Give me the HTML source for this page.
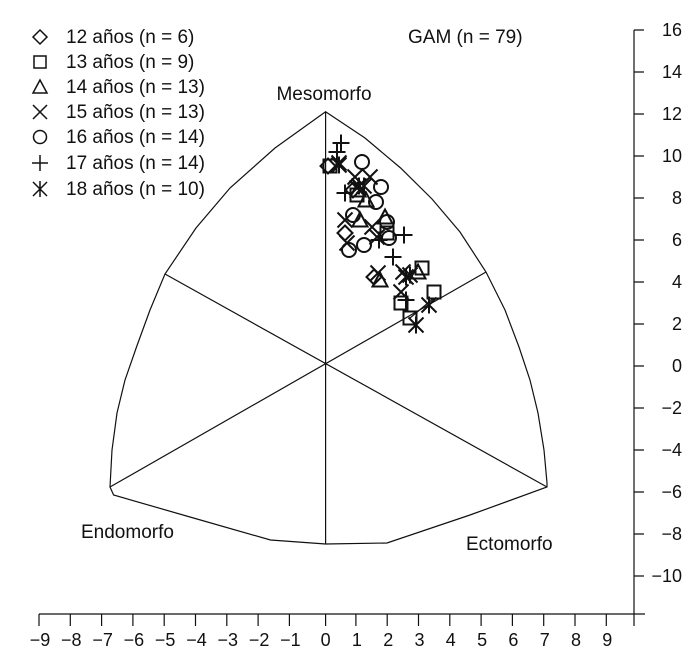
<!DOCTYPE html>
<html><head><meta charset="utf-8"><style>
html,body{margin:0;padding:0;background:#fff;}
svg{display:block;}
text{font-family:"Liberation Sans",sans-serif;fill:#111;}
</style></head><body>
<svg width="700" height="668" viewBox="0 0 700 668" xmlns="http://www.w3.org/2000/svg">
<defs>
<g id="dia"><path d="M0,-7.5 L7.5,0 L0,7.5 L-7.5,0Z" fill="none" stroke="#111" stroke-width="2"/></g>
<g id="sq"><rect x="-6.5" y="-6.5" width="13" height="13" fill="none" stroke="#111" stroke-width="2"/></g>
<g id="tri"><path d="M0,-7.5 L7.5,6.5 L-7.5,6.5Z" fill="none" stroke="#111" stroke-width="2"/></g>
<g id="x"><path d="M-7.5,-7.5 L7.5,7.5 M7.5,-7.5 L-7.5,7.5" stroke="#111" stroke-width="2"/></g>
<g id="ci"><circle r="7" fill="none" stroke="#111" stroke-width="2"/></g>
<g id="pl"><path d="M-8.5,0 L8.5,0 M0,-8.5 L0,8.5" stroke="#111" stroke-width="2"/></g>
<g id="as"><path d="M-7.5,-7.5 L7.5,7.5 M7.5,-7.5 L-7.5,7.5 M0,-8.5 L0,8.5" stroke="#111" stroke-width="2"/></g>
<g id="dial"><path d="M0,-7 L7,0 L0,7 L-7,0Z" fill="none" stroke="#111" stroke-width="1.5"/></g>
<g id="sql"><rect x="-6" y="-6" width="12" height="12" fill="none" stroke="#111" stroke-width="1.5"/></g>
<g id="tril"><path d="M0,-7 L7,6 L-7,6Z" fill="none" stroke="#111" stroke-width="1.5"/></g>
<g id="xl"><path d="M-7,-7 L7,7 M7,-7 L-7,7" stroke="#111" stroke-width="1.5"/></g>
<g id="cil"><circle r="6.5" fill="none" stroke="#111" stroke-width="1.5"/></g>
<g id="pll"><path d="M-8,0 L8,0 M0,-8 L0,8" stroke="#111" stroke-width="1.5"/></g>
<g id="asl"><path d="M-7,-7 L7,7 M7,-7 L-7,7 M0,-8 L0,8" stroke="#111" stroke-width="1.5"/></g>
</defs>

<!-- legend -->
<g>
<use href="#dial" x="40" y="37"/><use href="#sql" x="40" y="62"/><use href="#tril" x="40" y="87"/>
<use href="#xl" x="40" y="112"/><use href="#cil" x="40" y="137"/><use href="#pll" x="40" y="163"/><use href="#asl" x="40" y="189"/>
<g font-size="19">
<text x="66" y="43">12 años (n = 6)</text>
<text x="66" y="68">13 años (n = 9)</text>
<text x="66" y="93">14 años (n = 13)</text>
<text x="66" y="118">15 años (n = 13)</text>
<text x="66" y="143">16 años (n = 14)</text>
<text x="66" y="169">17 años (n = 14)</text>
<text x="66" y="195">18 años (n = 10)</text>
</g>
<text x="408" y="43" font-size="19">GAM (n = 79)</text>
</g>

<!-- somatochart -->
<g fill="none" stroke="#111" stroke-width="1.2">
<path d="M325.6,111.7 L365,138 L400.6,168 L432,199 L460,232 L486,272 L505,310 L519,347 L530,380 L538,413 L544,450 L547,483 L547,487 L470,515 L387,543 L325.6,544 L270.5,540 L190,517 L113.6,495 L110,487 L112,450 L117,413 L125,380 L136.5,347 L150,310 L165,274 L196,228 L230,188 L275,148 Z"/>
<path d="M325.6,111.7 L325.6,544 M165,274 L547,487 M486,272 L110,487"/>
</g>
<text x="324" y="100" font-size="19" text-anchor="middle">Mesomorfo</text>
<text x="81" y="538" font-size="19">Endomorfo</text>
<text x="466" y="550" font-size="19">Ectomorfo</text>

<!-- data -->
<g>
<path d="M410,318 L434,298" stroke="#111" stroke-width="1.2"/>
<use href="#pl" x="341" y="143"/><use href="#pl" x="337" y="152"/>
<use href="#dia" x="328" y="166"/><use href="#sq" x="330" y="166"/>
<use href="#x" x="339" y="163"/><use href="#as" x="339" y="165"/><use href="#ci" x="362" y="162"/>
<use href="#x" x="355" y="177"/><use href="#x" x="357" y="188"/><use href="#as" x="359" y="186"/>
<use href="#tri" x="358" y="190"/><use href="#dia" x="353" y="190"/><use href="#pl" x="345" y="193"/>
<use href="#ci" x="381" y="187"/><use href="#ci" x="376" y="202"/><use href="#tri" x="366" y="200"/>
<use href="#x" x="370" y="177"/><use href="#sq" x="357" y="195"/><use href="#as" x="364" y="186"/>
<use href="#x" x="345" y="220"/><use href="#tri" x="360" y="220"/><use href="#ci" x="353" y="215"/>
<use href="#tri" x="385" y="217"/><use href="#ci" x="387" y="222"/><use href="#x" x="372" y="227"/>
<use href="#dia" x="345" y="233"/><use href="#x" x="347" y="243"/><use href="#ci" x="349" y="250"/>
<use href="#ci" x="364" y="245"/><use href="#pl" x="379" y="240"/><use href="#x" x="377" y="237"/>
<use href="#sq" x="387" y="233"/><use href="#ci" x="389" y="238"/><use href="#pl" x="404" y="235"/>
<use href="#pl" x="393" y="257"/>
<use href="#dia" x="374" y="277"/><use href="#tri" x="380" y="280"/><use href="#x" x="378" y="273"/>
<use href="#as" x="406" y="277"/><use href="#x" x="403" y="272"/><use href="#sq" x="422" y="268"/>
<use href="#tri" x="418" y="272"/><use href="#as" x="410" y="275"/><use href="#x" x="401" y="292"/>
<use href="#sq" x="401" y="303"/><use href="#pl" x="406" y="300"/><use href="#sq" x="434" y="292"/>
<use href="#as" x="429" y="305"/><use href="#sq" x="410" y="318"/><use href="#as" x="416" y="325"/>
</g>

<!-- axes -->
<g stroke="#111" stroke-width="1.2">
<line x1="39" y1="614" x2="645" y2="614"/>
<path d="M39,614v12 M70.3,614v12 M101.6,614v12 M132.9,614v12 M164.2,614v12 M195.5,614v12 M226.8,614v12 M258.1,614v12 M289.4,614v12 M325.6,614v12 M355.9,614v12 M387.2,614v12 M418.5,614v12 M449.8,614v12 M481.1,614v12 M512.4,614v12 M543.7,614v12 M575,614v12 M606.3,614v12 M634,614v12"/>
<line x1="634" y1="30" x2="634" y2="614"/>
<path d="M634,30h10 M634,72h10 M634,114h10 M634,156h10 M634,198h10 M634,240h10 M634,282h10 M634,324h10 M634,366h10 M634,408h10 M634,450h10 M634,492h10 M634,534h10 M634,576h10"/>
</g>
<g font-size="18" text-anchor="middle">
<text x="40" y="646">−9</text><text x="71.3" y="646">−8</text><text x="102.6" y="646">−7</text>
<text x="133.9" y="646">−6</text><text x="165.2" y="646">−5</text><text x="196.5" y="646">−4</text>
<text x="227.8" y="646">−3</text><text x="259.1" y="646">−2</text><text x="290.4" y="646">−1</text>
<text x="325.6" y="646">0</text><text x="356.9" y="646">1</text><text x="388.2" y="646">2</text>
<text x="419.5" y="646">3</text><text x="450.8" y="646">4</text><text x="482.1" y="646">5</text>
<text x="513.4" y="646">6</text><text x="544.7" y="646">7</text><text x="576" y="646">8</text>
<text x="607.3" y="646">9</text>
</g>
<g font-size="18" text-anchor="end">
<text x="682" y="36">16</text><text x="682" y="78">14</text><text x="682" y="120">12</text>
<text x="682" y="162">10</text><text x="682" y="204">8</text><text x="682" y="246">6</text>
<text x="682" y="288">4</text><text x="682" y="330">2</text><text x="682" y="372">0</text>
<text x="682" y="414">−2</text><text x="682" y="456">−4</text><text x="682" y="498">−6</text>
<text x="682" y="540">−8</text><text x="682" y="582">−10</text>
</g>
</svg>
</body></html>
